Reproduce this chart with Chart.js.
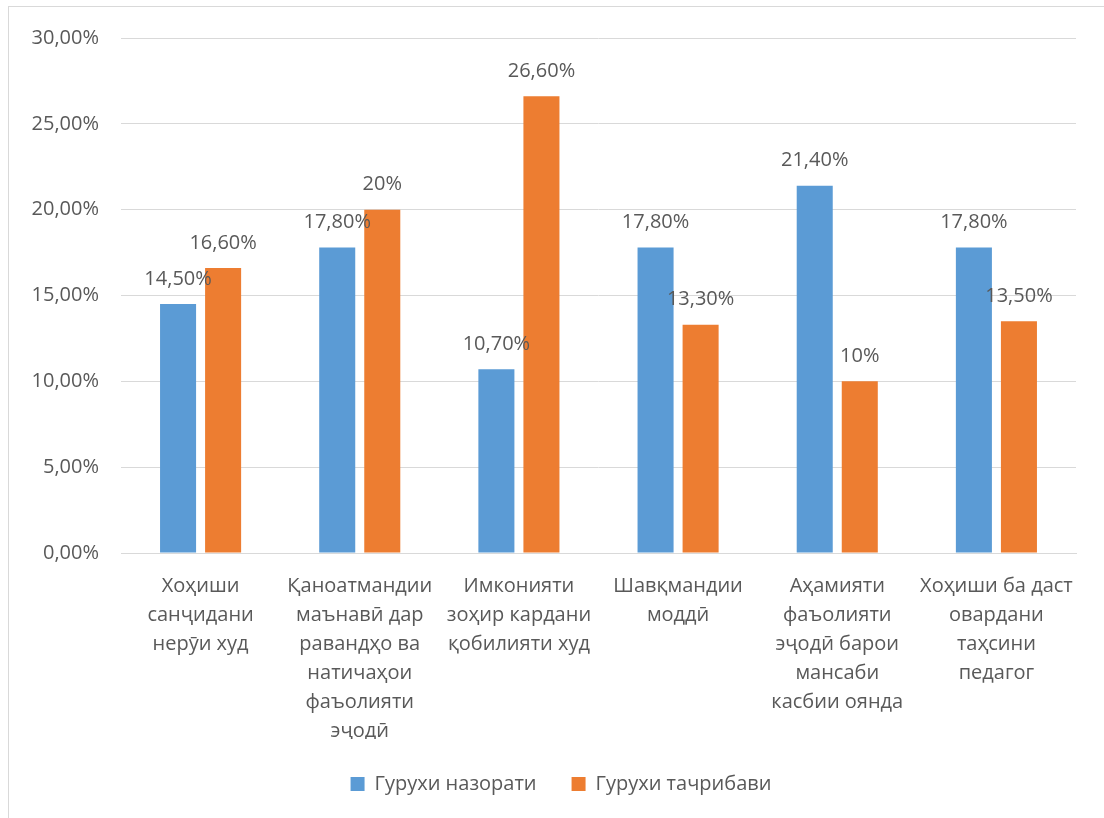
<!DOCTYPE html>
<html><head><meta charset="utf-8">
<script src="https://cdn.jsdelivr.net/npm/chart.js@4/dist/chart.umd.min.js"></script>
<style>
html,body{margin:0;padding:0;background:#fff;overflow:hidden;}
#wrap{position:relative;width:1104px;height:818px;}
#frame{position:absolute;left:8px;top:6px;width:1200px;height:900px;border:1px solid #d9d9d9;}
canvas{position:absolute;left:0;top:0;}
</style></head>
<body>
<div id="wrap"><div id="frame"></div><canvas id="c" width="1104" height="818"></canvas></div>
<script>
const categories = [
  ["Хоҳиши", "санҷидани", "нерӯи худ"],
  ["Қаноатмандии", "маънавӣ дар", "равандҳо ва", "натичаҳои", "фаъолияти", "эҷодӣ"],
  ["Имконияти", "зоҳир кардани", "қобилияти худ"],
  ["Шавқмандии", "моддӣ"],
  ["Аҳамияти", "фаъолияти", "эҷодӣ барои", "мансаби", "касбии оянда"],
  ["Хоҳиши ба даст", "овардани", "таҳсини", "педагог"]
];
const seriesNames = ["Гурухи назорати", "Гурухи тачрибави"];
const controlValues = [14.5, 17.8, 10.7, 17.8, 21.4, 17.8];
const experimentValues = [16.6, 20, 26.6, 13.3, 10, 13.5];
const yTicks = [0, 5, 10, 15, 20, 25, 30];

const FONT = "'Open Sans', sans-serif";
const TXT = "#595959";
const fmtTick = v => v.toFixed(2).replace('.', ',') + '%';
const fmtLabel = v => Number.isInteger(v) ? v + '%' : v.toFixed(2).replace('.', ',') + '%';

const labelPlugin = {
  id: 'barLabels',
  afterLayout(chart) {
    if (chart.legend) { chart.legend.left += 23; chart.legend.right += 23; }
  },
  afterDatasetsDraw(chart) {
    const ctx = chart.ctx;
    ctx.save();
    ctx.font = "20px " + FONT;
    ctx.fillStyle = TXT;
    ctx.textAlign = 'center';
    ctx.textBaseline = 'middle';
    chart.data.datasets.forEach((ds, i) => {
      chart.getDatasetMeta(i).data.forEach((bar, j) => {
        ctx.fillText(fmtLabel(ds.data[j]), bar.x, bar.y - 25);
      });
    });
    ctx.restore();
  }
};

new Chart(document.getElementById('c'), {
  type: 'bar',
  data: {
    labels: categories,
    datasets: [
      { label: seriesNames[0], data: controlValues, backgroundColor: '#5B9BD5' },
      { label: seriesNames[1], data: experimentValues, backgroundColor: '#ED7D31' }
    ]
  },
  options: {
    responsive: false,
    animation: false,
    devicePixelRatio: 1,
    categoryPercentage: 0.566,
    barPercentage: 0.8,
    layout: { padding: { top: 38, right: 28, left: 0, bottom: 14 } },
    plugins: {
      legend: {
        position: 'bottom',
        labels: {
          boxWidth: 14, boxHeight: 14, padding: 35,
          font: { family: FONT, size: 20 }, color: TXT
        }
      },
      tooltip: { enabled: false }
    },
    scales: {
      x: {
        grid: { display: false },
        border: { color: '#d9d9d9' },
        ticks: {
          autoSkip: false, maxRotation: 0, minRotation: 0, padding: 11,
          font: { family: FONT, size: 20, lineHeight: 1.45 }, color: TXT
        },
        afterFit(s) { s.height = 186; }
      },
      y: {
        min: 0, max: 30,
        afterBuildTicks(s) { s.ticks = yTicks.map(v => ({ value: v })); },
        grid: { color: '#d9d9d9', drawTicks: false },
        border: { display: false },
        ticks: {
          padding: 22,
          font: { family: FONT, size: 20 }, color: TXT,
          callback: v => fmtTick(v)
        },
        afterFit(s) { s.width = 121; }
      }
    }
  },
  plugins: [labelPlugin]
});
</script>
</body></html>
